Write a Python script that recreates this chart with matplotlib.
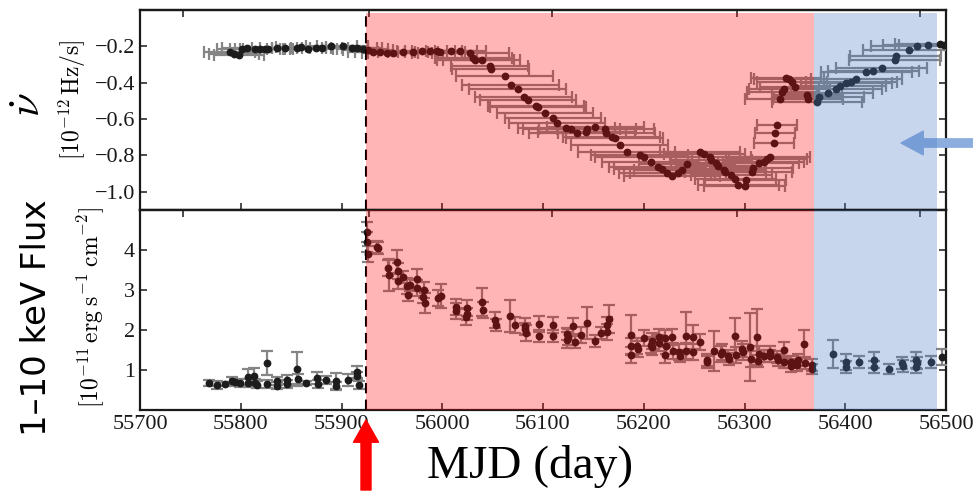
import matplotlib
matplotlib.use('Agg')
import matplotlib.pyplot as plt

plt.rcParams['mathtext.fontset'] = 'cm'
plt.rcParams['font.family'] = ['Liberation Serif', 'DejaVu Serif']
plt.rcParams['axes.unicode_minus'] = True

# ---------------- data ----------------
# spin-down rate (10^-12 Hz/s)
nudot_mjd = [55789, 55793, 55798, 55801, 55806, 55814, 55819, 55824, 55827, 55836, 55844, 55856, 55860, 55867,
             55875, 55881, 55890, 55901, 55910, 55915, 55921,
             55926, 55931, 55938, 55945, 55951, 55961, 55971, 55980, 55988, 55995, 55998, 56009, 56018,
             56028, 56031, 56033, 56039, 56047, 56048,
             56062, 56068, 56075, 56081, 56085, 56093, 56095, 56102, 56110, 56114, 56123, 56128, 56134, 56143,
             56144, 56152, 56162, 56163, 56168, 56171, 56176, 56183, 56196, 56200, 56207, 56214, 56218, 56223,
             56228, 56234, 56238, 56243,
             56256, 56260, 56266, 56267, 56272, 56274, 56280, 56281, 56287, 56291, 56294, 56300, 56301, 56307,
             56308, 56314, 56319, 56322, 56325,
             56329, 56330, 56332,
             56335, 56337, 56339, 56341, 56344, 56347, 56350, 56362, 56363,
             56372, 56374, 56383, 56391, 56395, 56401, 56406, 56411, 56421, 56428, 56436, 56449, 56450, 56463,
             56471, 56482, 56494, 56498]
nudot_val = [-0.233, -0.244, -0.249, -0.216, -0.211, -0.216, -0.215, -0.215, -0.212, -0.210, -0.209, -0.207, -0.206, -0.214,
             -0.211, -0.209, -0.200, -0.198, -0.207, -0.211, -0.216,
             -0.222, -0.230, -0.233, -0.237, -0.237, -0.233, -0.233, -0.228, -0.228, -0.226, -0.231, -0.226, -0.226,
             -0.237, -0.262, -0.273, -0.277, -0.310, -0.322,
             -0.363, -0.414, -0.436, -0.481, -0.496, -0.527, -0.536, -0.569, -0.596, -0.620, -0.648, -0.657, -0.675, -0.673,
             -0.657, -0.646, -0.657, -0.678, -0.697, -0.706, -0.742, -0.779, -0.797, -0.806, -0.834, -0.861, -0.874, -0.898,
             -0.911, -0.894, -0.879, -0.848,
             -0.779, -0.792, -0.806, -0.825, -0.843, -0.858, -0.879, -0.892, -0.907, -0.930, -0.962, -0.967, -0.934, -0.889,
             -0.870, -0.843, -0.834, -0.821, -0.806,
             -0.730, -0.678, -0.633,
             -0.489, -0.450, -0.432, -0.372, -0.377, -0.396, -0.426, -0.468, -0.492,
             -0.505, -0.478, -0.454, -0.437, -0.419, -0.404, -0.396, -0.377, -0.341, -0.337, -0.319, -0.277, -0.255, -0.222,
             -0.200, -0.191, -0.185, -0.190]
nudot_xerr = ([25] * 21 + [25] * 13 + [38] * 6 + [48] * 32 + [40] * 19 + [20] * 3 + [35] * 9 + [45] * 18)

# 1-10 keV flux (10^-11 erg/s/cm^2)
flux_mjd = [55768, 55776, 55784, 55791, 55794, 55799, 55807, 55807, 55813, 55814, 55816, 55826, 55826, 55836, 55836,
            55846, 55846, 55856, 55857, 55865, 55876, 55877, 55885, 55895, 55895, 55906, 55915, 55915, 55917,
            55925.5, 55925.5, 55926.5, 55935, 55936, 55946, 55947, 55955, 55956, 55956, 55961, 55965, 55966, 55968,
            55975, 55975, 55982, 55981, 55983, 55996, 55999, 56014, 56014, 56025, 56025, 56024, 56039, 56040, 56052,
            56053, 56067, 56072, 56082, 56082, 56083, 56096, 56096, 56110, 56110, 56124, 56124, 56125, 56130, 56132,
            56138, 56144, 56152, 56158, 56164, 56164, 56166, 56187, 56187, 56187, 56193, 56194, 56200, 56207, 56208,
            56208, 56215, 56215, 56221, 56222, 56221, 56228, 56229, 56235, 56236, 56242, 56242, 56249, 56249, 56256,
            56263, 56263, 56270, 56277, 56278, 56284, 56285, 56291, 56292, 56298, 56299, 56305, 56306, 56312, 56313,
            56314, 56319, 56325, 56325, 56332, 56333, 56339, 56339, 56346, 56346, 56352, 56353, 56359, 56360, 56367,
            56367,
            56388, 56401, 56401, 56414, 56429, 56429, 56443, 56456, 56457, 56470, 56471, 56470, 56485, 56496]
flux_val = [0.675, 0.633, 0.65, 0.733, 0.69, 0.675, 0.833, 0.675, 0.84, 0.675, 0.633, 1.167, 0.65, 0.717, 0.61,
            0.758, 0.65, 1.025, 0.775, 0.675, 0.79, 0.65, 0.75, 0.733, 0.61, 0.75, 0.94, 0.86, 0.625,
            4.44, 4.19, 3.9, 4.08, 4.04, 3.55, 3.375, 3.69, 3.48, 3.23, 3.33, 3.09, 2.88, 3.125,
            3.275, 3.04, 3.01, 2.82, 2.67, 2.79, 2.84, 2.58, 2.48, 2.54, 2.4, 2.32, 2.71, 2.51, 2.26,
            2.125, 2.34, 2.125, 2.11, 2.025, 1.925, 2.15, 1.84, 2.125, 1.84, 1.9, 1.76, 1.82, 2.11, 1.71,
            1.875, 2.17, 1.72, 1.92, 1.96, 2.125, 2.275, 1.875, 1.61, 1.375, 1.61, 1.525, 1.79, 1.625, 1.73,
            1.57, 1.83, 1.675, 1.79, 1.61, 1.38, 1.82, 1.48, 1.44, 1.34, 1.86, 1.47, 1.83, 1.46, 1.69,
            1.26, 1.19, 1.48, 1.4, 1.46, 1.36, 1.275, 1.86, 1.38, 1.525, 1.44, 1.58, 1.275, 1.82, 1.23,
            1.4, 1.36, 1.46, 1.36, 1.32, 1.26, 1.51, 1.21, 1.19, 1.11, 1.125, 1.26, 1.65, 1.175, 1.125,
            1.025,
            1.4, 1.21, 1.085, 1.19, 1.25, 1.085, 1.025, 1.17, 1.11, 1.26, 1.175, 1.07, 1.19, 1.32]
flux_err = [0.08, 0.1, 0.06, 0.1, 0.08, 0.1, 0.2, 0.1, 0.2, 0.1, 0.08, 0.3, 0.1, 0.1, 0.08,
            0.12, 0.1, 0.42, 0.12, 0.06, 0.15, 0.1, 0.1, 0.2, 0.1, 0.15, 0.15, 0.1, 0.1,
            0.25, 0.25, 0.2, 0.15, 0.15, 0.2, 0.4, 0.3, 0.2, 0.2, 0.15, 0.2, 0.15, 0.15,
            0.25, 0.2, 0.2, 0.15, 0.25, 0.2, 0.3, 0.2, 0.2, 0.2, 0.15, 0.2, 0.35, 0.2, 0.2,
            0.15, 0.4, 0.2, 0.2, 0.15, 0.2, 0.2, 0.15, 0.2, 0.15, 0.15, 0.2, 0.2, 0.2, 0.15,
            0.2, 0.4, 0.15, 0.15, 0.2, 0.2, 0.35, 0.5, 0.2, 0.2, 0.2, 0.2, 0.2, 0.2, 0.2,
            0.2, 0.2, 0.2, 0.2, 0.2, 0.2, 0.2, 0.2, 0.2, 0.15, 0.6, 0.2, 0.3, 0.2, 0.2,
            0.15, 0.15, 0.5, 0.2, 0.2, 0.15, 0.15, 0.45, 0.2, 0.2, 0.2, 0.85, 0.2, 0.7, 0.15,
            0.2, 0.15, 0.15, 0.15, 0.15, 0.15, 0.2, 0.15, 0.15, 0.15, 0.15, 0.15, 0.35, 0.15, 0.15,
            0.12,
            0.35, 0.2, 0.15, 0.15, 0.2, 0.15, 0.12, 0.15, 0.15, 0.2, 0.15, 0.15, 0.15, 0.2]

outburst_mjd = 55924.3
red_span = (55924.3, 56369)
blue_span = (56369, 56491)
date_ticks = [55743, 55927, 56109, 56293, 56474]   # Jan 1 / Jul 1
x_ticks = [55700, 55800, 55900, 56000, 56100, 56200, 56300, 56400, 56500]
nudot_ticks = [-0.2, -0.4, -0.6, -0.8, -1.0]
flux_ticks = [1, 2, 3, 4]

# ---------------- figure ----------------
W, H = 973, 492
fig = plt.figure(figsize=(W / 100, H / 100), dpi=100)
L, R = 140 / W, 946 / W
ax1 = fig.add_axes([L, 1 - 210 / H, R - L, 200 / H])
ax2 = fig.add_axes([L, 1 - 410 / H, R - L, 200 / H], sharex=ax1)

pt_col = '#1c1c1c'
err_col = '0.52'

ax1.errorbar(nudot_mjd, nudot_val, xerr=nudot_xerr, fmt='o', color=pt_col, ms=4.6,
             ecolor=err_col, elinewidth=1.6, capsize=4, capthick=1.6, zorder=3)
ax2.errorbar(flux_mjd, flux_val, yerr=flux_err, fmt='o', color=pt_col, ms=4.6,
             ecolor=err_col, elinewidth=1.6, capsize=4, capthick=1.6, zorder=3)

for ax, ytop in ((ax1, 0.985), (ax2, 1.0)):
    ax.axvline(outburst_mjd, color='k', ls='--', lw=1.5, dashes=(5, 3), zorder=4)
    ax.axvspan(*red_span, ymax=ytop, color='#ff0000', alpha=0.29, lw=0, zorder=5)
    ax.axvspan(*blue_span, ymax=ytop, color='#4876c6', alpha=0.30, lw=0, zorder=5)
    ax.set_xlim(55700, 56500)
    ax.set_xticks(x_ticks)
    ax.tick_params(direction='in', length=5, width=1.1, right=True, top=False,
                   labelsize=16, colors='#1a1a1a')
    for s in ax.spines.values():
        s.set_linewidth(1.6)
        s.set_color('#1a1a1a')
    sec = ax.secondary_xaxis('top')
    sec.set_xticks(date_ticks)
    sec.set_xticklabels([])
    sec.tick_params(direction='in', length=5, width=1.1, colors='#1a1a1a')
    sec.spines['top'].set_linewidth(1.6)
    sec.spines['top'].set_color('#1a1a1a')

ax1.set_ylim(-1.1, 0.0)
ax1.set_yticks(nudot_ticks)
ax1.tick_params(labelbottom=False)
ax2.set_ylim(0, 5)
ax2.set_yticks(flux_ticks)

# labels
fig.text(30 / W, 1 - 105 / H, r'$\dot{\nu}$', rotation=90, fontsize=31, ha='center', va='center')
fig.text(72 / W, 1 - 100 / H, r'$[10^{-12}\,\mathrm{Hz/s}]$', rotation=90, fontsize=17,
         ha='center', va='center')
fig.text(37 / W, 1 - 318 / H, '1–10 keV Flux', rotation=90, fontsize=24.5, ha='center', va='center',
         family=['DejaVu Sans'])
fig.text(91 / W, 1 - 307 / H, r'$[10^{-11}\,\mathrm{erg\;s^{-1}\;cm^{-2}}]$', rotation=90, fontsize=17,
         ha='center', va='center')
fig.text(530 / W, 1 - 467 / H, 'MJD (day)', fontsize=34, ha='center', va='center',
         family=['Liberation Serif'])

# arrows
ax2.annotate('', xy=(366, H - 420), xycoords='figure pixels',
             xytext=(366, H - 490), textcoords='figure pixels',
             arrowprops=dict(arrowstyle='simple,head_length=0.8,head_width=0.9,tail_width=0.36',
                             color='#ff0000', mutation_scale=20, shrinkA=0, shrinkB=0),
             annotation_clip=False)
ax1.annotate('', xy=(901, H - 143), xycoords='figure pixels',
             xytext=(980, H - 143), textcoords='figure pixels',
             arrowprops=dict(arrowstyle='simple,head_length=0.8,head_width=0.85,tail_width=0.3',
                             color='#8caedf', mutation_scale=20, shrinkA=0, shrinkB=0),
             annotation_clip=False)

fig.savefig('out.png', dpi=100)
